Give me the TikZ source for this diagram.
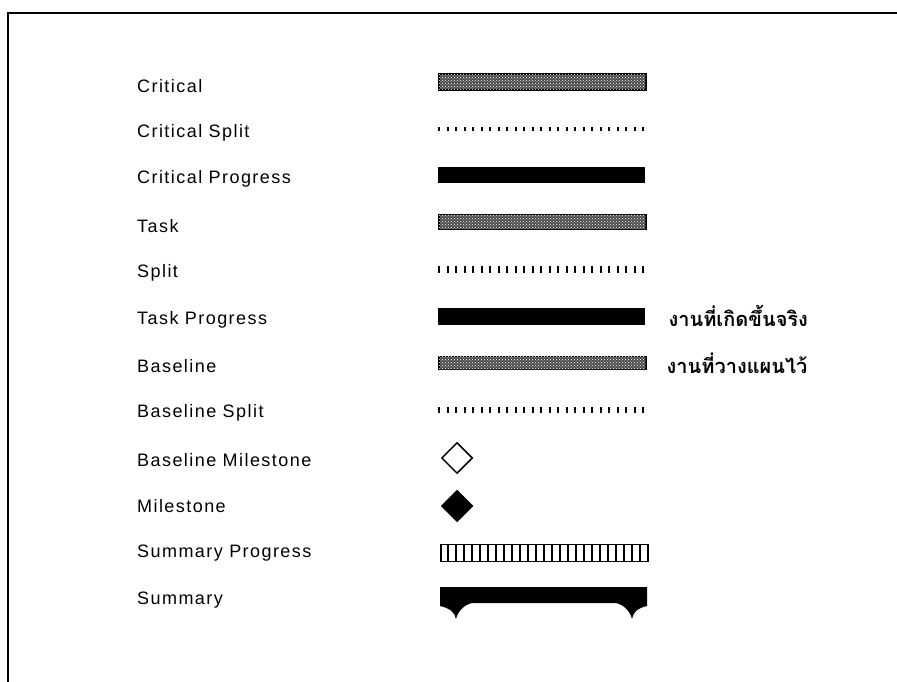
\documentclass[tikz,border=0pt]{standalone}
\usepackage{fontspec}
\newfontfamily\legendfont[LetterSpace=8]{Liberation Sans}
\newfontfamily\thaifont[Script=Thai]{Loma}
\usetikzlibrary{shapes.geometric,patterns,positioning}

\begin{document}
\begin{tikzpicture}[x=1pt, y=-1pt,
    legend/.style={anchor=west, inner sep=0pt, font=\legendfont\fontsize{18}{20}\selectfont},
    bar/.style={anchor=west, minimum width=207pt, minimum height=15pt, inner sep=0pt},
    hatchbar/.style={bar, draw=black, line width=1.5pt, fill=black!70,
      postaction={pattern=crosshatch dots, pattern color=white}},
    solidbar/.style={bar, fill=black},
    splitline/.style={line width=#1, dash pattern=on 2pt off 6.5pt},
    milestone/.style={diamond, draw=black, line width=1.5pt, minimum size=31pt, inner sep=0pt},
    thai/.style={anchor=west, inner sep=0pt, font=\thaifont\bfseries\fontsize{20}{24}\selectfont}
]
\useasboundingbox (0,0) rectangle (897,682);

% frame
\draw[line width=2pt] (8,682) -- (8,13) -- (897,13);

% legend texts
\node[legend] (lcrit) at (137,86) {Critical};
\node[legend] (lcritsplit) at (137,133) {Critical Split};
\node[legend] (lcritprog) at (137,179) {Critical Progress};
\node[legend] (ltask) at (137,226) {Task};
\node[legend] (lsplit) at (137,273) {Split};
\node[legend] (ltaskprog) at (137,320) {Task Progress};
\node[legend] (lbase) at (137,366) {Baseline};
\node[legend] (lbasesplit) at (137,413) {Baseline Split};
\node[legend] (lbasemile) at (137,460) {Baseline Milestone};
\node[legend] (lmile) at (137,506) {Milestone};
\node[legend] (lsumprog) at (137,553) {Summary Progress};
\node[legend] (lsum) at (137,600) {Summary};

% bars
\node[hatchbar, minimum height=16pt] (critbar) at (438,82) {};
\node[solidbar, minimum height=16pt] (critprogbar) at (438,175) {};
\node[hatchbar] (taskbar) at (438,222) {};
\node[solidbar, minimum height=17pt] (taskprogbar) at (438,316) {};
\node[hatchbar, minimum height=13pt] (basebar) at (438,363) {};

% splits
\coordinate (csplitA) at (438,129);
\coordinate (csplitB) at (645,129);
\coordinate (splitA) at (438,269);
\coordinate (splitB) at (645,269);
\coordinate (bsplitA) at (438,410);
\coordinate (bsplitB) at (645,410);
\draw[splitline=3.5pt] (csplitA) -- (csplitB);
\draw[splitline=7pt] (splitA) -- (splitB);
\draw[splitline=5.5pt] (bsplitA) -- (bsplitB);

% milestones
\node[milestone] (basemile) at (457,458) {};
\node[milestone, fill=black] (mile) at (457,506) {};

% summary progress
\node[bar, draw=black, line width=1.5pt, minimum height=17pt] (sumprog) at (440,553) {};
\foreach \k in {1,...,25}
  \draw[line width=2pt] ([xshift=\k*8pt]sumprog.north west) -- ([xshift=\k*8pt]sumprog.south west);

% summary
\fill (440,587) -- (647,587) -- (647,606)
  .. controls (638,608) and (633,612) .. (632,619)
  .. controls (630,611) and (624,605) .. (616,603)
  -- (472,603)
  .. controls (464,605) and (458,611) .. (456,619)
  .. controls (455,612) and (449,608) .. (440,606) -- cycle;

% notes
\node[thai, right=23pt of taskprogbar] (tactual) {งานที่เกิดขึ้นจริง};
\node[thai, right=20pt of basebar] (tplan) {งานที่วางแผนไว้};

\end{tikzpicture}
\end{document}
